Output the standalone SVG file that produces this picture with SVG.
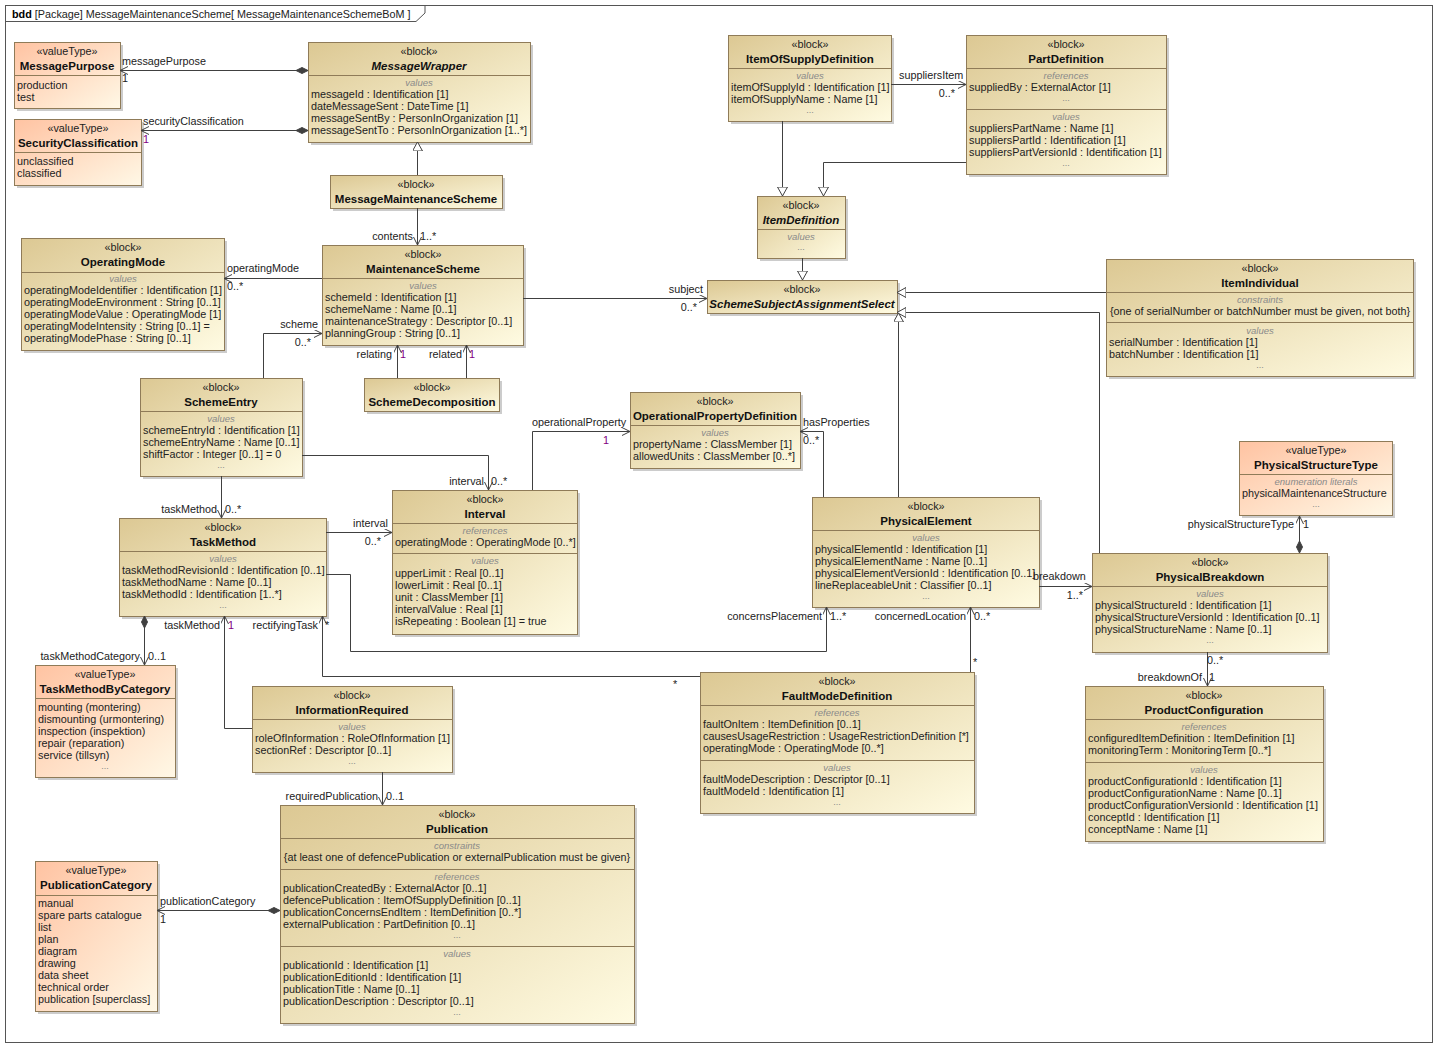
<svg xmlns="http://www.w3.org/2000/svg" width="1438" height="1048" viewBox="0 0 1438 1048">
<defs>
<linearGradient id="gb" x1="0" y1="0" x2="1" y2="1"><stop offset="0" stop-color="#dcc893"/><stop offset="1" stop-color="#fffbe2"/></linearGradient>
<linearGradient id="gv" x1="0" y1="0" x2="1" y2="1"><stop offset="0" stop-color="#ffc3a2"/><stop offset="1" stop-color="#fff8e6"/></linearGradient>
<marker id="ar" markerUnits="userSpaceOnUse" markerWidth="10" markerHeight="10" refX="8" refY="4" orient="auto"><path d="M0,0 L8,4 L0,8" fill="none" stroke="#404040"/></marker>
<marker id="dm" markerUnits="userSpaceOnUse" markerWidth="14" markerHeight="10" refX="0" refY="4" orient="auto"><path d="M0,4 L6,1 L12,4 L6,7 Z" fill="#404040" stroke="#404040"/></marker>
<marker id="tr" markerUnits="userSpaceOnUse" markerWidth="12" markerHeight="12" refX="9" refY="5" orient="auto"><path d="M0,0 L9,5 L0,10 Z" fill="#fff" stroke="#404040"/></marker>
</defs>
<style>
.b{fill:url(#gb);stroke:#8f7b58}
.v{fill:url(#gv);stroke:#8f7b58}
.s{fill:#9a9a9a;opacity:.5}
.l{stroke:#8f7b58}
text{font-family:"Liberation Sans",Arial,sans-serif;font-size:10.8px;fill:#222}
.c{text-anchor:middle}
.n{font-weight:bold;font-size:11.5px;text-anchor:middle;fill:#111}
.i{font-style:italic}
.g{font-style:italic;font-size:9.5px;fill:#8a8a8a;text-anchor:middle}
.d{fill:#8a8a8a;text-anchor:middle;font-size:9px}
.e{text-anchor:end}
.p{fill:#800080}
.cn path{fill:none;stroke:#404040}
.a{marker-end:url(#ar)}
.da{marker-start:url(#dm);marker-end:url(#ar)}
.t{marker-end:url(#tr)}
</style>
<rect width="1438" height="1048" fill="#fff"/>
<g id="frame">
<rect x="5.5" y="5.5" width="1427" height="1037" fill="none" stroke="#555"/>
<path d="M5.5,21.5 H416 L425,13 V5.5" fill="none" stroke="#555"/>
<text x="12" y="17.5"><tspan font-weight="bold" fill="#000">bdd</tspan> [Package] MessageMaintenanceScheme[ MessageMaintenanceSchemeBoM ]</text>
</g>

<g id="MessagePurpose">
<rect class="s" x="17" y="45" width="106" height="66"/><rect class="v" x="14.5" y="42.5" width="106" height="66"/>
<text x="67" y="55" class="c">«valueType»</text><text x="67" y="70" class="n">MessagePurpose</text>
<line class="l" x1="14.5" y1="75.5" x2="120.5" y2="75.5"/>
<text x="17" y="89">production</text><text x="17" y="101">test</text>
</g>
<g id="SecurityClassification">
<rect class="s" x="17" y="122" width="127" height="66"/><rect class="v" x="14.5" y="119.5" width="127" height="66"/>
<text x="78" y="132" class="c">«valueType»</text><text x="78" y="147" class="n">SecurityClassification</text>
<line class="l" x1="14.5" y1="152.5" x2="141.5" y2="152.5"/>
<text x="17" y="165">unclassified</text><text x="17" y="177">classified</text>
</g>
<g id="MessageWrapper">
<rect class="s" x="311" y="45" width="222" height="100"/><rect class="b" x="308.5" y="42.5" width="222" height="100"/>
<text x="419" y="55" class="c">«block»</text><text x="419" y="70" class="n i">MessageWrapper</text>
<line class="l" x1="308.5" y1="75.5" x2="530.5" y2="75.5"/>
<text x="419" y="86" class="g">values</text>
<text x="311" y="98">messageId : Identification [1]</text>
<text x="311" y="110">dateMessageSent : DateTime [1]</text>
<text x="311" y="122">messageSentBy : PersonInOrganization [1]</text>
<text x="311" y="134">messageSentTo : PersonInOrganization [1..*]</text>
</g>
<g id="MessageMaintenanceScheme">
<rect class="s" x="333" y="178" width="172" height="33"/><rect class="b" x="330.5" y="175.5" width="172" height="33"/>
<text x="416" y="188" class="c">«block»</text><text x="416" y="203" class="n">MessageMaintenanceScheme</text>
</g>
<g id="ItemOfSupplyDefinition">
<rect class="s" x="731" y="38" width="163" height="86"/><rect class="b" x="728.5" y="35.5" width="163" height="86"/>
<text x="810" y="48" class="c">«block»</text><text x="810" y="63" class="n">ItemOfSupplyDefinition</text>
<line class="l" x1="728.5" y1="68.5" x2="891.5" y2="68.5"/>
<text x="810" y="79" class="g">values</text>
<text x="731" y="91">itemOfSupplyId : Identification [1]</text>
<text x="731" y="103">itemOfSupplyName : Name [1]</text>
<text x="810" y="113" class="d">...</text>
</g>
<g id="PartDefinition">
<rect class="s" x="969" y="38" width="200" height="139"/><rect class="b" x="966.5" y="35.5" width="200" height="139"/>
<text x="1066" y="48" class="c">«block»</text><text x="1066" y="63" class="n">PartDefinition</text>
<line class="l" x1="966.5" y1="68.5" x2="1166.5" y2="68.5"/>
<text x="1066" y="79" class="g">references</text>
<text x="969" y="91">suppliedBy : ExternalActor [1]</text>
<text x="1066" y="101" class="d">...</text>
<line class="l" x1="966.5" y1="109.5" x2="1166.5" y2="109.5"/>
<text x="1066" y="120" class="g">values</text>
<text x="969" y="132">suppliersPartName : Name [1]</text>
<text x="969" y="144">suppliersPartId : Identification [1]</text>
<text x="969" y="156">suppliersPartVersionId : Identification [1]</text>
<text x="1066" y="166" class="d">...</text>
</g>
<g id="ItemDefinition">
<rect class="s" x="760" y="199" width="88" height="62"/><rect class="b" x="757.5" y="196.5" width="88" height="62"/>
<text x="801" y="209" class="c">«block»</text><text x="801" y="224" class="n i">ItemDefinition</text>
<line class="l" x1="757.5" y1="229.5" x2="845.5" y2="229.5"/>
<text x="801" y="240" class="g">values</text>
<text x="801" y="250" class="d">...</text>
</g>
<g id="OperatingMode">
<rect class="s" x="24" y="241" width="203" height="112"/><rect class="b" x="21.5" y="238.5" width="203" height="112"/>
<text x="123" y="251" class="c">«block»</text><text x="123" y="266" class="n">OperatingMode</text>
<line class="l" x1="21.5" y1="272.5" x2="224.5" y2="272.5"/>
<text x="123" y="282" class="g">values</text>
<text x="24" y="294">operatingModeIdentifier : Identification [1]</text>
<text x="24" y="306">operatingModeEnvironment : String [0..1]</text>
<text x="24" y="318">operatingModeValue : OperatingMode [1]</text>
<text x="24" y="330">operatingModeIntensity : String [0..1] =</text>
<text x="24" y="342">operatingModePhase : String [0..1]</text>
</g>
<g id="MaintenanceScheme">
<rect class="s" x="325" y="248" width="201" height="100"/><rect class="b" x="322.5" y="245.5" width="201" height="100"/>
<text x="423" y="258" class="c">«block»</text><text x="423" y="273" class="n">MaintenanceScheme</text>
<line class="l" x1="322.5" y1="278.5" x2="523.5" y2="278.5"/>
<text x="423" y="289" class="g">values</text>
<text x="325" y="301">schemeId : Identification [1]</text>
<text x="325" y="313">schemeName : Name [0..1]</text>
<text x="325" y="325">maintenanceStrategy : Descriptor [0..1]</text>
<text x="325" y="337">planningGroup : String [0..1]</text>
</g>
<g id="SchemeSubjectAssignmentSelect">
<rect class="s" x="710" y="283" width="190" height="33"/><rect class="b" x="707.5" y="280.5" width="190" height="33"/>
<text x="802" y="293" class="c">«block»</text><text x="802" y="308" class="n i">SchemeSubjectAssignmentSelect</text>
</g>
<g id="ItemIndividual">
<rect class="s" x="1109" y="262" width="307" height="117"/><rect class="b" x="1106.5" y="259.5" width="307" height="117"/>
<text x="1260" y="272" class="c">«block»</text><text x="1260" y="287" class="n">ItemIndividual</text>
<line class="l" x1="1106.5" y1="292.5" x2="1413.5" y2="292.5"/>
<text x="1260" y="303" class="g">constraints</text>
<text x="1260" y="315" class="c">{one of serialNumber or batchNumber must be given, not both}</text>
<line class="l" x1="1106.5" y1="322.5" x2="1413.5" y2="322.5"/>
<text x="1260" y="334" class="g">values</text>
<text x="1109" y="346">serialNumber : Identification [1]</text>
<text x="1109" y="358">batchNumber : Identification [1]</text>
<text x="1260" y="368" class="d">...</text>
</g>
<g id="SchemeEntry">
<rect class="s" x="143" y="381" width="162" height="98"/><rect class="b" x="140.5" y="378.5" width="162" height="98"/>
<text x="221" y="391" class="c">«block»</text><text x="221" y="406" class="n">SchemeEntry</text>
<line class="l" x1="140.5" y1="411.5" x2="302.5" y2="411.5"/>
<text x="221" y="422" class="g">values</text>
<text x="143" y="434">schemeEntryId : Identification [1]</text>
<text x="143" y="446">schemeEntryName : Name [0..1]</text>
<text x="143" y="458">shiftFactor : Integer [0..1] = 0</text>
<text x="221" y="468" class="d">...</text>
</g>
<g id="SchemeDecomposition">
<rect class="s" x="367" y="381" width="135" height="33"/><rect class="b" x="364.5" y="378.5" width="135" height="33"/>
<text x="432" y="391" class="c">«block»</text><text x="432" y="406" class="n">SchemeDecomposition</text>
</g>
<g id="OperationalPropertyDefinition">
<rect class="s" x="633" y="395" width="170" height="76"/><rect class="b" x="630.5" y="392.5" width="170" height="76"/>
<text x="715" y="405" class="c">«block»</text><text x="715" y="420" class="n">OperationalPropertyDefinition</text>
<line class="l" x1="630.5" y1="425.5" x2="800.5" y2="425.5"/>
<text x="715" y="436" class="g">values</text>
<text x="633" y="448">propertyName : ClassMember [1]</text>
<text x="633" y="460">allowedUnits : ClassMember [0..*]</text>
</g>
<g id="Interval">
<rect class="s" x="395" y="493" width="185" height="144"/><rect class="b" x="392.5" y="490.5" width="185" height="144"/>
<text x="485" y="503" class="c">«block»</text><text x="485" y="518" class="n">Interval</text>
<line class="l" x1="392.5" y1="523.5" x2="577.5" y2="523.5"/>
<text x="485" y="534" class="g">references</text>
<text x="395" y="546">operatingMode : OperatingMode [0..*]</text>
<line class="l" x1="392.5" y1="553.5" x2="577.5" y2="553.5"/>
<text x="485" y="564" class="g">values</text>
<text x="395" y="577">upperLimit : Real [0..1]</text>
<text x="395" y="589">lowerLimit : Real [0..1]</text>
<text x="395" y="601">unit : ClassMember [1]</text>
<text x="395" y="613">intervalValue : Real [1]</text>
<text x="395" y="625">isRepeating : Boolean [1] = true</text>
</g>
<g id="TaskMethod">
<rect class="s" x="122" y="521" width="207" height="98"/><rect class="b" x="119.5" y="518.5" width="207" height="98"/>
<text x="223" y="531" class="c">«block»</text><text x="223" y="546" class="n">TaskMethod</text>
<line class="l" x1="119.5" y1="551.5" x2="326.5" y2="551.5"/>
<text x="223" y="562" class="g">values</text>
<text x="122" y="574">taskMethodRevisionId : Identification [0..1]</text>
<text x="122" y="586">taskMethodName : Name [0..1]</text>
<text x="122" y="598">taskMethodId : Identification [1..*]</text>
<text x="223" y="608" class="d">...</text>
</g>
<g id="PhysicalElement">
<rect class="s" x="815" y="500" width="227" height="110"/><rect class="b" x="812.5" y="497.5" width="227" height="110"/>
<text x="926" y="510" class="c">«block»</text><text x="926" y="525" class="n">PhysicalElement</text>
<line class="l" x1="812.5" y1="530.5" x2="1039.5" y2="530.5"/>
<text x="926" y="541" class="g">values</text>
<text x="815" y="553">physicalElementId : Identification [1]</text>
<text x="815" y="565">physicalElementName : Name [0..1]</text>
<text x="815" y="577">physicalElementVersionId : Identification [0..1]</text>
<text x="815" y="589">lineReplaceableUnit : Classifier [0..1]</text>
<text x="926" y="599" class="d">...</text>
</g>
<g id="PhysicalStructureType">
<rect class="s" x="1242" y="444" width="153" height="74"/><rect class="v" x="1239.5" y="441.5" width="153" height="74"/>
<text x="1316" y="454" class="c">«valueType»</text><text x="1316" y="469" class="n">PhysicalStructureType</text>
<line class="l" x1="1239.5" y1="474.5" x2="1392.5" y2="474.5"/>
<text x="1316" y="485" class="g">enumeration literals</text>
<text x="1242" y="497">physicalMaintenanceStructure</text>
<text x="1316" y="507" class="d">...</text>
</g>
<g id="PhysicalBreakdown">
<rect class="s" x="1095" y="556" width="235" height="99"/><rect class="b" x="1092.5" y="553.5" width="235" height="99"/>
<text x="1210" y="566" class="c">«block»</text><text x="1210" y="581" class="n">PhysicalBreakdown</text>
<line class="l" x1="1092.5" y1="586.5" x2="1327.5" y2="586.5"/>
<text x="1210" y="597" class="g">values</text>
<text x="1095" y="609">physicalStructureId : Identification [1]</text>
<text x="1095" y="621">physicalStructureVersionId : Identification [0..1]</text>
<text x="1095" y="633">physicalStructureName : Name [0..1]</text>
<text x="1210" y="643" class="d">...</text>
</g>
<g id="TaskMethodByCategory">
<rect class="s" x="38" y="668" width="140" height="112"/><rect class="v" x="35.5" y="665.5" width="140" height="112"/>
<text x="105" y="678" class="c">«valueType»</text><text x="105" y="693" class="n">TaskMethodByCategory</text>
<line class="l" x1="35.5" y1="698.5" x2="175.5" y2="698.5"/>
<text x="38" y="711">mounting (montering)</text>
<text x="38" y="723">dismounting (urmontering)</text>
<text x="38" y="735">inspection (inspektion)</text>
<text x="38" y="747">repair (reparation)</text>
<text x="38" y="759">service (tillsyn)</text>
<text x="105" y="769" class="d">...</text>
</g>
<g id="InformationRequired">
<rect class="s" x="255" y="689" width="200" height="86"/><rect class="b" x="252.5" y="686.5" width="200" height="86"/>
<text x="352" y="699" class="c">«block»</text><text x="352" y="714" class="n">InformationRequired</text>
<line class="l" x1="252.5" y1="719.5" x2="452.5" y2="719.5"/>
<text x="352" y="730" class="g">values</text>
<text x="255" y="742">roleOfInformation : RoleOfInformation [1]</text>
<text x="255" y="754">sectionRef : Descriptor [0..1]</text>
<text x="352" y="764" class="d">...</text>
</g>
<g id="FaultModeDefinition">
<rect class="s" x="703" y="675" width="274" height="141"/><rect class="b" x="700.5" y="672.5" width="274" height="141"/>
<text x="837" y="685" class="c">«block»</text><text x="837" y="700" class="n">FaultModeDefinition</text>
<line class="l" x1="700.5" y1="705.5" x2="974.5" y2="705.5"/>
<text x="837" y="716" class="g">references</text>
<text x="703" y="728">faultOnItem : ItemDefinition [0..1]</text>
<text x="703" y="740">causesUsageRestriction : UsageRestrictionDefinition [*]</text>
<text x="703" y="752">operatingMode : OperatingMode [0..*]</text>
<line class="l" x1="700.5" y1="760.5" x2="974.5" y2="760.5"/>
<text x="837" y="771" class="g">values</text>
<text x="703" y="783">faultModeDescription : Descriptor [0..1]</text>
<text x="703" y="795">faultModeId : Identification [1]</text>
<text x="837" y="805" class="d">...</text>
</g>
<g id="ProductConfiguration">
<rect class="s" x="1088" y="689" width="238" height="155"/><rect class="b" x="1085.5" y="686.5" width="238" height="155"/>
<text x="1204" y="699" class="c">«block»</text><text x="1204" y="714" class="n">ProductConfiguration</text>
<line class="l" x1="1085.5" y1="719.5" x2="1323.5" y2="719.5"/>
<text x="1204" y="730" class="g">references</text>
<text x="1088" y="742">configuredItemDefinition : ItemDefinition [1]</text>
<text x="1088" y="754">monitoringTerm : MonitoringTerm [0..*]</text>
<line class="l" x1="1085.5" y1="762.5" x2="1323.5" y2="762.5"/>
<text x="1204" y="773" class="g">values</text>
<text x="1088" y="785">productConfigurationId : Identification [1]</text>
<text x="1088" y="797">productConfigurationName : Name [0..1]</text>
<text x="1088" y="809">productConfigurationVersionId : Identification [1]</text>
<text x="1088" y="821">conceptId : Identification [1]</text>
<text x="1088" y="833">conceptName : Name [1]</text>
</g>
<g id="Publication">
<rect class="s" x="283" y="808" width="354" height="218"/><rect class="b" x="280.5" y="805.5" width="354" height="218"/>
<text x="457" y="818" class="c">«block»</text><text x="457" y="833" class="n">Publication</text>
<line class="l" x1="280.5" y1="838.5" x2="634.5" y2="838.5"/>
<text x="457" y="849" class="g">constraints</text>
<text x="457" y="861" class="c">{at least one of defencePublication or externalPublication must be given}</text>
<line class="l" x1="280.5" y1="869.5" x2="634.5" y2="869.5"/>
<text x="457" y="880" class="g">references</text>
<text x="283" y="892">publicationCreatedBy : ExternalActor [0..1]</text>
<text x="283" y="904">defencePublication : ItemOfSupplyDefinition [0..1]</text>
<text x="283" y="916">publicationConcernsEndItem : ItemDefinition [0..*]</text>
<text x="283" y="928">externalPublication : PartDefinition [0..1]</text>
<text x="457" y="938" class="d">...</text>
<line class="l" x1="280.5" y1="946.5" x2="634.5" y2="946.5"/>
<text x="457" y="957" class="g">values</text>
<text x="283" y="969">publicationId : Identification [1]</text>
<text x="283" y="981">publicationEditionId : Identification [1]</text>
<text x="283" y="993">publicationTitle : Name [0..1]</text>
<text x="283" y="1005">publicationDescription : Descriptor [0..1]</text>
<text x="457" y="1015" class="d">...</text>
</g>
<g id="PublicationCategory">
<rect class="s" x="38" y="864" width="122" height="150"/><rect class="v" x="35.5" y="861.5" width="122" height="150"/>
<text x="96" y="874" class="c">«valueType»</text><text x="96" y="889" class="n">PublicationCategory</text>
<line class="l" x1="35.5" y1="895.5" x2="157.5" y2="895.5"/>
<text x="38" y="907">manual</text>
<text x="38" y="919">spare parts catalogue</text>
<text x="38" y="931">list</text>
<text x="38" y="943">plan</text>
<text x="38" y="955">diagram</text>
<text x="38" y="967">drawing</text>
<text x="38" y="979">data sheet</text>
<text x="38" y="991">technical order</text>
<text x="38" y="1003">publication [superclass]</text>
</g>

<g class="cn" id="connectors">
<path class="da" d="M308,70.5 H120"/>
<path class="da" d="M308,130.5 H141"/>
<path class="t" d="M417.5,175 V142"/>
<path class="a" d="M417.5,208 V245"/>
<path class="a" d="M322,278.5 H224"/>
<path class="a" d="M523,298.5 H707"/>
<path class="a" d="M263.5,378 V333.5 H322"/>
<path class="a" d="M397.5,378 V345"/>
<path class="a" d="M466.5,378 V345"/>
<path class="a" d="M302,455.5 H488.5 V490"/>
<path class="a" d="M221.5,476 V518"/>
<path class="a" d="M326,532.5 H392"/>
<path class="a" d="M532.5,490 V431.5 H630"/>
<path class="a" d="M823.5,497 V431.5 H800"/>
<path class="t" d="M898.5,497 V313"/>
<path class="t" d="M1106,292.5 H897"/>
<path class="t" d="M1099.5,553 V312.5 H897"/>
<path class="t" d="M782.5,121 V196"/>
<path class="t" d="M966,162.5 H823.5 V196"/>
<path class="a" d="M891,84.5 H966"/>
<path class="t" d="M802.5,258 V280"/>
<path class="a" d="M1039,586.5 H1092"/>
<path class="da" d="M1299.5,553 V516"/>
<path class="a" d="M1207.5,652 V686"/>
<path class="a" d="M326,574.5 H350.5 V651.5 H826.5 V607"/>
<path class="a" d="M970.5,672 V607"/>
<path class="a" d="M700,676.5 H322.5 V616"/>
<path class="a" d="M252,728.5 H224.5 V616"/>
<path class="da" d="M144.5,616 V665"/>
<path class="a" d="M382.5,772 V805"/>
<path class="da" d="M280,910.5 H157"/>
<text x="122" y="65">messagePurpose</text><text x="122" y="82">1</text>
<text x="143" y="125">securityClassification</text><text x="143" y="143" class="p">1</text>
<text x="413" y="240" class="e">contents</text><text x="420" y="240">1..*</text>
<text x="227" y="272">operatingMode</text><text x="227" y="290">0..*</text>
<text x="703" y="293" class="e">subject</text><text x="697" y="311" class="e">0..*</text>
<text x="318" y="328" class="e">scheme</text><text x="311" y="346" class="e">0..*</text>
<text x="392" y="358" class="e">relating</text><text x="400" y="358" class="p">1</text>
<text x="462" y="358" class="e">related</text><text x="469" y="358" class="p">1</text>
<text x="484" y="485" class="e">interval</text><text x="491" y="485">0..*</text>
<text x="217" y="513" class="e">taskMethod</text><text x="225" y="513">0..*</text>
<text x="353" y="527">interval</text><text x="381" y="545" class="e">0..*</text>
<text x="532" y="426">operationalProperty</text><text x="603" y="444" class="p">1</text>
<text x="803" y="426">hasProperties</text><text x="803" y="444">0..*</text>
<text x="899" y="79">suppliersItem</text><text x="955" y="97" class="e">0..*</text>
<text x="1033" y="580">breakdown</text><text x="1083" y="599" class="e">1..*</text>
<text x="1294" y="528" class="e">physicalStructureType</text><text x="1303" y="528">1</text>
<text x="1207" y="664">0..*</text><text x="1202" y="681" class="e">breakdownOf</text><text x="1209" y="681">1</text>
<text x="822" y="620" class="e">concernsPlacement</text><text x="830" y="620">1..*</text>
<text x="966" y="620" class="e">concernedLocation</text><text x="974" y="620">0..*</text><text x="973" y="666">*</text>
<text x="318" y="629" class="e">rectifyingTask</text><text x="325" y="629">*</text><text x="673" y="688">*</text>
<text x="220" y="629" class="e">taskMethod</text><text x="228" y="629" class="p">1</text>
<text x="140" y="660" class="e">taskMethodCategory</text><text x="148" y="660">0..1</text>
<text x="378" y="800" class="e">requiredPublication</text><text x="386" y="800">0..1</text>
<text x="160" y="905">publicationCategory</text><text x="160" y="923">1</text>
</g>
</svg>
